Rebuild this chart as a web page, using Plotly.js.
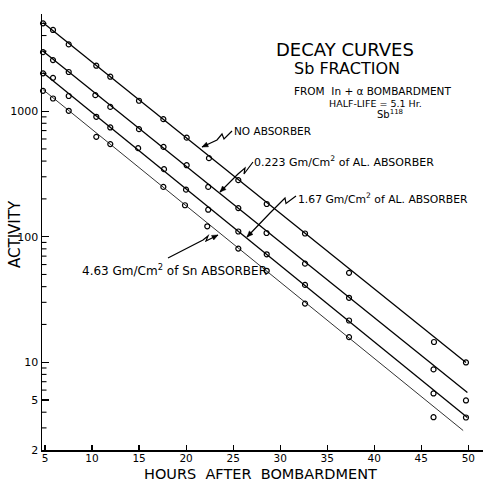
<!DOCTYPE html>
<html><head><meta charset="utf-8">
<script src="https://cdn.plot.ly/plotly-3.0.1.min.js"></script>
<style>html,body{margin:0;padding:0;background:#fff}</style>
</head><body><div id="chart" style="width:483px;height:483px"></div>
<script>
// ---- data ----
const hoursA = [4.79,5.85,7.52,10.45,11.94,14.99,17.58,20.06,22.43,25.55,28.57,32.64,37.32,46.35,49.75];
const activityA = [5000,4430,3400,2300,1880,1210,863,615,422,282,182,106,51.5,14.5,9.96];
const hoursB = [4.79,5.85,7.52,10.35,11.94,14.99,17.6,20.06,22.35,25.55,28.55,32.64,37.32,46.3,49.75];
const activityB = [2950,2550,2050,1340,1080,718,519,371,249,169,107,61,32.6,8.77,4.96];
const hoursC = [4.79,5.85,7.52,10.45,11.94,14.9,17.65,19.99,22.35,25.55,28.57,32.64,37.32,46.3,49.75];
const activityC = [2000,1840,1320,901,741,507,345,237,164,110,72.4,41.3,21.5,5.64,3.63];
const hoursD = [4.79,5.85,7.52,10.45,11.94,17.58,19.88,22.25,25.55,28.57,32.64,37.32,46.3];
const activityD = [1450,1260,1006,624,546,249,178,121,80.4,53.5,29.3,15.85,3.65];
// fitted decay lines (end points)
const fitHoursA = [4.8,49.75], fitA = [5050,9.96];
const fitHoursB = [4.8,49.9],  fitB = [3000,5.75];
const fitHoursC = [4.8,49.9],  fitC = [2020,3.63];
const fitHoursD = [4.8,49.45], fitD = [1480,2.86];
const seriesNames = ["NO ABSORBER","0.223 Gm/Cm² of AL. ABSORBER","1.67 Gm/Cm² of AL. ABSORBER","4.63 Gm/Cm² of Sn ABSORBER"];
const xTickVals = [5,10,15,20,25,30,35,40,45,50];
const yTickVals = [2,5,10,100,1000];
const yTickText = ["2","5","10","100","1000"];
const yMinorVals = [3,4,6,7,8,9,20,30,40,50,60,70,80,90,200,300,400,500,600,700,800,900,2000,3000,4000,5000];

// ---- layout helpers (pixel -> paper) ----
const L=42, R=483, T=14, B=450, W=483, H=483;
const px = x => (x-L)/(R-L);
const py = y => (B-y)/(B-T);
const FONT = "DejaVu Sans, Liberation Sans, sans-serif";
const YRANGE = [Math.log10(2),3.7735];
const yPaper = v => (Math.log10(v)-YRANGE[0])/(YRANGE[1]-YRANGE[0]);

const traces = [];
const fits = [[fitHoursA,fitA],[fitHoursB,fitB],[fitHoursC,fitC],[fitHoursD,fitD]];
const pts = [[hoursA,activityA],[hoursB,activityB],[hoursC,activityC],[hoursD,activityD]];
fits.forEach((f,i)=>traces.push({x:f[0],y:f[1],mode:'lines',line:{color:i===3?'#333':'#000',width:i===3?1:1.3},hoverinfo:'skip',showlegend:false,name:seriesNames[i]}));
pts.forEach((p,i)=>traces.push({x:p[0],y:p[1],mode:'markers',marker:{symbol:'circle-open',size:5,color:'#000',line:{width:1.2,color:'#000'}},showlegend:false,name:seriesNames[i],cliponaxis:false}));

const shapes = [];
// minor ticks of the log axis, placed from the axis scale
yMinorVals.forEach(v=>{
  const y = yPaper(v);
  shapes.push({type:'line',xref:'paper',yref:'paper',x0:0,x1:4.5/(R-L),y0:y,y1:y,line:{color:'#000',width:1.1}});
});

// zigzag pointer arrows (pixel coordinates, head first)
const arrows = [
  [[202,147],[217,140],[222,134],[224,139],[232,131]],
  [[220,192],[232,180],[238,174],[245,168],[244,174],[253,162]],
  [[247,237],[270,213],[278,205],[285,198],[286,203.5],[296,196]],
  [[218,235],[206,241],[208,236],[203,240],[168,258]]
];
arrows.forEach(a=>{
  const d = a.map((p,i)=>(i?'L':'M')+px(p[0]).toFixed(5)+','+py(p[1]).toFixed(5)).join(' ');
  shapes.push({type:'path',xref:'paper',yref:'paper',path:d,line:{color:'#000',width:1.2}});
  const h=a[0], q=a[1];
  let ux=h[0]-q[0], uy=h[1]-q[1]; const n=Math.hypot(ux,uy); ux/=n; uy/=n;
  const bx=h[0]-6*ux, by=h[1]-6*uy, vx=-uy*2.5, vy=ux*2.5;
  const tri=[[h[0],h[1]],[bx+vx,by+vy],[bx-vx,by-vy]];
  shapes.push({type:'path',xref:'paper',yref:'paper',path:tri.map((p,i)=>(i?'L':'M')+px(p[0]).toFixed(5)+','+py(p[1]).toFixed(5)).join(' ')+' Z',fillcolor:'#000',line:{color:'#000',width:0.5}});
});

function txt(text,x,y,size,opts){
  return Object.assign({text:text,xref:'paper',yref:'paper',x:px(x),y:py(y),xanchor:'left',yanchor:'middle',showarrow:false,font:{family:FONT,size:size,color:'#000'}},opts||{});
}
const annotations = [
  txt("DECAY CURVES",274,49.5,18),
  txt("Sb FRACTION",292,69,16),
  txt("FROM  In + α BOMBARDMENT",292,91,10.5),
  txt("HALF-LIFE = 5.1 Hr.",327,103.5,9.5),
  txt("Sb<sup>118</sup>",375,114,10),
  txt(seriesNames[0],232,131,10.5),
  txt("0.223 Gm/Cm<sup>2</sup> of AL. ABSORBER",252,161.5,11),
  txt("1.67 Gm/Cm<sup>2</sup> of AL. ABSORBER",296,198.5,10.8),
  txt("4.63 Gm/Cm<sup>2</sup> of Sn ABSORBER",80,270,12),
  txt("ACTIVITY",15,234,15,{xanchor:'center',textangle:-90}),
  txt("HOURS  AFTER  BOMBARDMENT",260,474,14.5,{xanchor:'center'})
];

const layout = {
  width:W,height:H,margin:{l:L,r:W-R,t:T,b:H-B},
  paper_bgcolor:'#fff',plot_bgcolor:'#fff',showlegend:false,
  font:{family:FONT,color:'#000'},
  xaxis:{range:[4.68,51.56],showgrid:false,zeroline:false,showline:true,linecolor:'#000',linewidth:1.5,
    ticks:'inside',ticklen:5,tickwidth:1.2,tickcolor:'#000',tickmode:'array',tickvals:xTickVals,ticklabelstandoff:-2,
    tickfont:{family:FONT,size:10.5,color:'#000'}},
  yaxis:{type:'log',range:YRANGE,showgrid:false,zeroline:false,showline:true,linecolor:'#000',linewidth:1.5,
    ticks:'inside',ticklen:7,tickwidth:1.2,tickcolor:'#000',tickmode:'array',tickvals:yTickVals,ticktext:yTickText,
    tickfont:{family:FONT,size:11,color:'#000'}},
  shapes:shapes,annotations:annotations
};
Plotly.newPlot('chart',traces,layout,{displayModeBar:false,staticPlot:true});
</script></body></html>
